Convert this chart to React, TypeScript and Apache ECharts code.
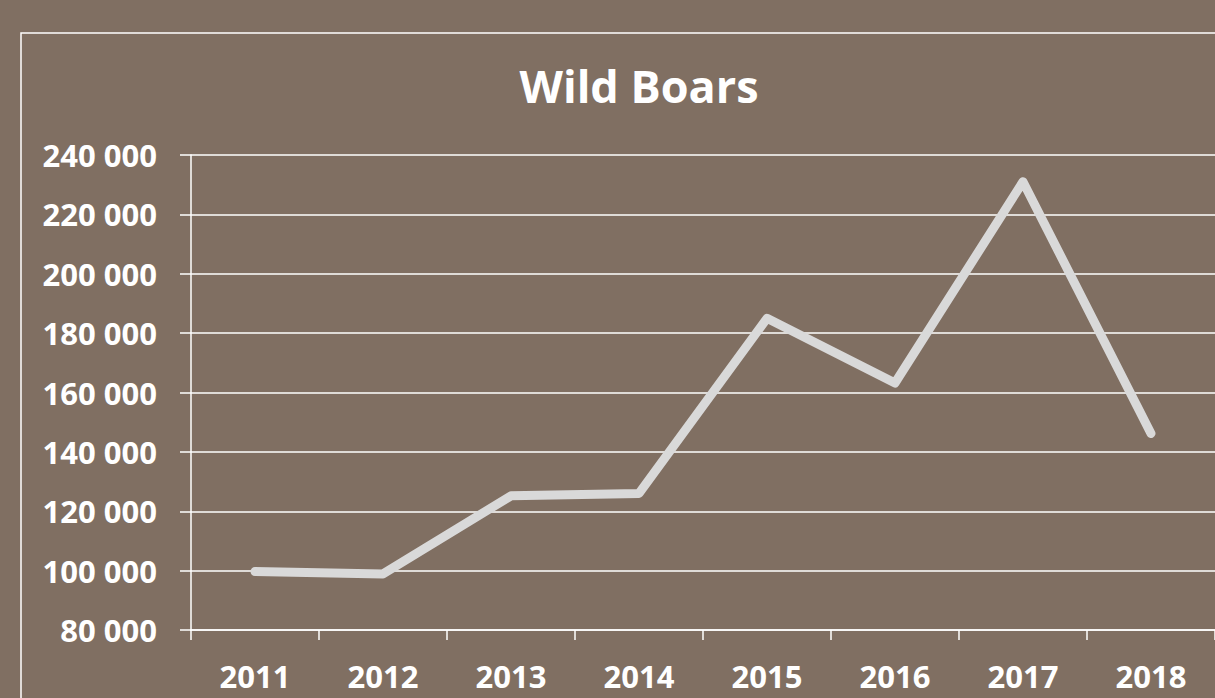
import React, { useEffect, useRef } from "react";
import * as echarts from "echarts";

const years = ["2011", "2012", "2013", "2014", "2015", "2016", "2017", "2018"];
const boars = [99700, 98900, 125200, 126000, 185000, 163200, 231000, 146200];
const yMin = 80000;
const yMax = 240000;
const yStep = 20000;

const fmt = (v: number) => String(v).replace(/\B(?=(\d{3})+(?!\d))/g, " ");

export default function App() {
  const ref = useRef<HTMLDivElement>(null);
  useEffect(() => {
    if (!ref.current) return;
    const chart = echarts.init(ref.current, null, { renderer: "svg" });
    const font = "'Open Sans', 'Noto Sans', sans-serif";
    chart.setOption({
      animation: false,
      backgroundColor: "#806f62",
      title: {
        text: "Wild Boars",
        left: 634,
        top: 58,
        textAlign: "center",
        textStyle: { color: "#ffffff", fontSize: 45, fontWeight: "bold", fontFamily: font },
      },
      graphic: [
        {
          type: "rect",
          shape: { x: 21, y: 33, width: 1400, height: 900 },
          style: { fill: "none", stroke: "#ffffff", lineWidth: 1.5 },
          silent: true,
        },
      ],
      grid: { left: 191, right: 0, top: 155, bottom: 68, containLabel: false },
      xAxis: {
        type: "category",
        data: years,
        boundaryGap: true,
        axisLine: { show: true, lineStyle: { color: "#ffffff", width: 1.5 } },
        axisTick: { show: true, length: 10, lineStyle: { color: "#ffffff", width: 1.5 } },
        axisLabel: { color: "#ffffff", fontSize: 31, fontWeight: "bold", fontFamily: font, margin: 30 },
        splitLine: { show: false },
      },
      yAxis: {
        type: "value",
        min: yMin,
        max: yMax,
        interval: yStep,
        axisLine: { show: true, lineStyle: { color: "#ffffff", width: 1.5 } },
        axisTick: { show: true, length: 11, lineStyle: { color: "#ffffff", width: 1.5 } },
        axisLabel: {
          color: "#ffffff",
          fontSize: 31,
          fontWeight: "bold",
          fontFamily: font,
          margin: 34,
          formatter: (v: number) => fmt(v),
        },
        splitLine: { show: true, lineStyle: { color: "#ffffff", width: 1.5 } },
      },
      series: [
        {
          type: "line",
          data: boars,
          symbol: "none",
          lineStyle: { color: "#d9d9d9", width: 9, cap: "round", join: "round" },
        },
      ],
    });
    return () => chart.dispose();
  }, []);
  return (
    <div
      ref={ref}
      style={{ position: "fixed", left: 0, top: 0, width: 1215, height: 698 }}
    />
  );
}
